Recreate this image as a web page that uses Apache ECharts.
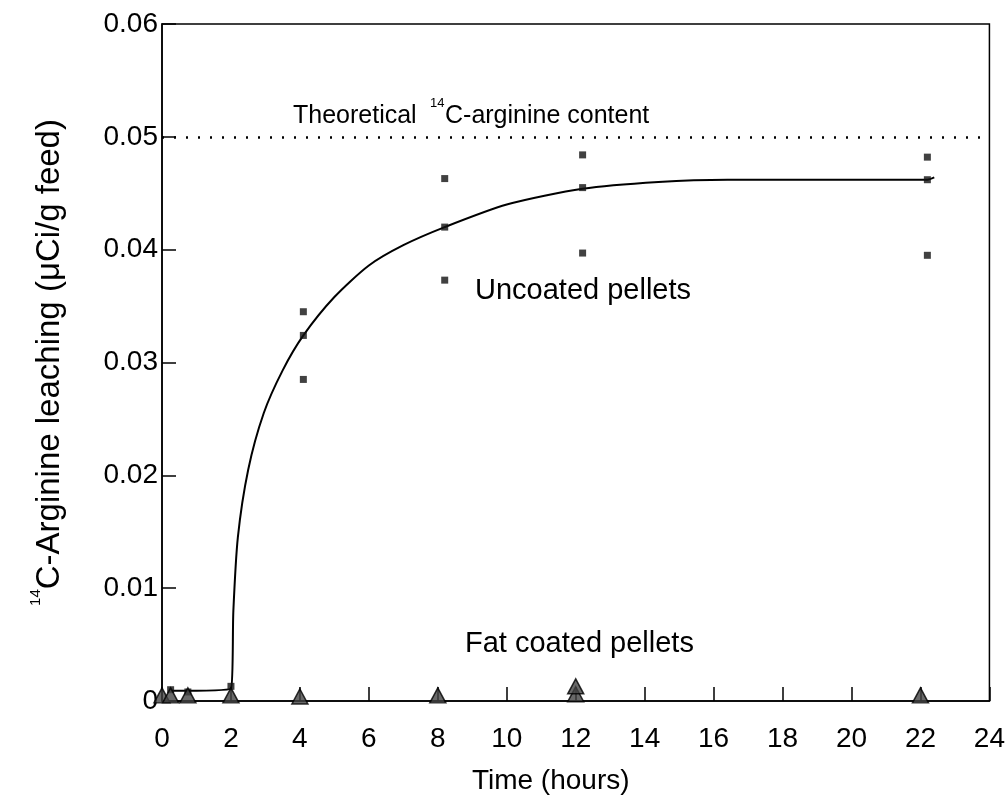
<!DOCTYPE html>
<html>
<head>
<meta charset="utf-8">
<script src="https://cdn.jsdelivr.net/npm/echarts@6/dist/echarts.min.js"></script>
<style>html,body{margin:0;padding:0;background:#fff;}#c{width:1008px;height:800px;}</style>
</head>
<body>
<div id="c"></div>
<script>
// Tick labels
var xTicks = [0,2,4,6,8,10,12,14,16,18,20,22,24];
var yTicks = [0,0.01,0.02,0.03,0.04,0.05,0.06];
// Uncoated pellets: measured points [time (h), leaching]
var uncoatedPoints = [
  [0.25,0.0010],[0.75,0.0008],[2.0,0.0013],
  [4.1,0.0345],[4.1,0.0324],[4.1,0.0285],
  [8.2,0.0463],[8.2,0.0420],[8.2,0.0373],
  [12.2,0.0484],[12.2,0.0455],[12.2,0.0397],
  [22.2,0.0482],[22.2,0.0462],[22.2,0.0395]
];
// Fitted curve for uncoated pellets
var uncoatedCurve = [
  [0.25,0.0009],[2.0,0.0011],[2.07,0.008],[2.2,0.0145],[2.5,0.0205],[2.95,0.0255],
  [3.5,0.0293],[4.1,0.0324],[5.0,0.0358],[6.0,0.0386],[7.0,0.0404],[8.2,0.0420],
  [10.0,0.0440],[12.2,0.0454],[14.4,0.0460],[16.4,0.0462],[19.3,0.0462],[22.2,0.0462],[22.4,0.0464]
];
// Fat coated pellets
var fatCoated = [
  [0,0.0005],[0.25,0.0005],[0.75,0.0005],[2.0,0.0005],[4.0,0.0004],
  [8.0,0.0005],[12.0,0.0006],[12.0,0.0013],[22.0,0.0005]
];
var theoretical = 0.05;

var FONT = '"Liberation Sans", Arial, sans-serif';
var chart = echarts.init(document.getElementById('c'), null, {renderer:'canvas'});
chart.setOption({
  animation:false,
  backgroundColor:'#fff',
  grid:{left:162,right:18,top:24,bottom:92,show:true,borderColor:'#000',borderWidth:1.5},
  xAxis:{
    type:'value',min:xTicks[0],max:xTicks[xTicks.length-1],interval:2,
    name:'Time (hours)',nameLocation:'middle',nameGap:66,
    nameTextStyle:{fontFamily:FONT,fontSize:28,color:'#000',padding:[0,50,0,0]},
    axisLine:{show:true,lineStyle:{color:'#000',width:1.5}},
    axisTick:{show:true,inside:true,length:14,lineStyle:{color:'#000',width:1.5}},
    axisLabel:{fontFamily:FONT,fontSize:28,color:'#000',margin:24},
    splitLine:{show:false}
  },
  yAxis:{
    type:'value',min:yTicks[0],max:yTicks[yTicks.length-1],interval:0.01,
    name:'{sup|14}{m|C-Arginine leaching (μCi/g feed)}',
    nameLocation:'middle',nameRotate:90,nameGap:90,
    nameTextStyle:{fontFamily:FONT,color:'#000',
      rich:{
        m:{fontFamily:FONT,fontSize:33,lineHeight:44,color:'#000'},
        sup:{fontFamily:FONT,fontSize:15,lineHeight:15,color:'#000',verticalAlign:'top'}
      }},
    axisLine:{show:true,lineStyle:{color:'#000',width:1.5}},
    axisTick:{show:true,inside:true,length:14,lineStyle:{color:'#000',width:1.5}},
    axisLabel:{fontFamily:FONT,fontSize:28,color:'#000',margin:4,
      formatter:function(v){return v===0?'0':v.toFixed(2);}},
    splitLine:{show:false}
  },
  series:[
    {
      name:'curve',type:'line',data:uncoatedCurve,showSymbol:false,
      smooth:0.25,
      lineStyle:{color:'#000',width:2},
      markLine:{silent:true,symbol:['none','none'],label:{show:false},
        lineStyle:{color:'#000',width:2.5,type:[2,10]},
        data:[{yAxis:theoretical}]},
      z:3
    },
    {
      name:'Uncoated pellets',type:'scatter',data:uncoatedPoints,
      symbol:'rect',symbolSize:7,itemStyle:{color:'#111'},z:4
    },
    {
      name:'Fat coated pellets',type:'scatter',data:fatCoated,
      symbol:'triangle',symbolSize:[16,15],
      itemStyle:{color:'#444',borderColor:'#000',borderWidth:1.5},z:5
    }
  ],
  graphic:[
    {type:'text',left:293,top:104,style:{text:'Theoretical',font:'25px '+FONT,fill:'#000'}},
    {type:'text',left:430,top:97,style:{text:'14',font:'13px '+FONT,fill:'#000'}},
    {type:'text',left:445,top:104,style:{text:'C-arginine content',font:'25px '+FONT,fill:'#000'}},
    {type:'text',left:475,top:276,style:{text:'Uncoated pellets',font:'29px '+FONT,fill:'#000'}},
    {type:'text',left:465,top:629,style:{text:'Fat coated pellets',font:'29px '+FONT,fill:'#000'}}
  ]
});
</script>
</body>
</html>
